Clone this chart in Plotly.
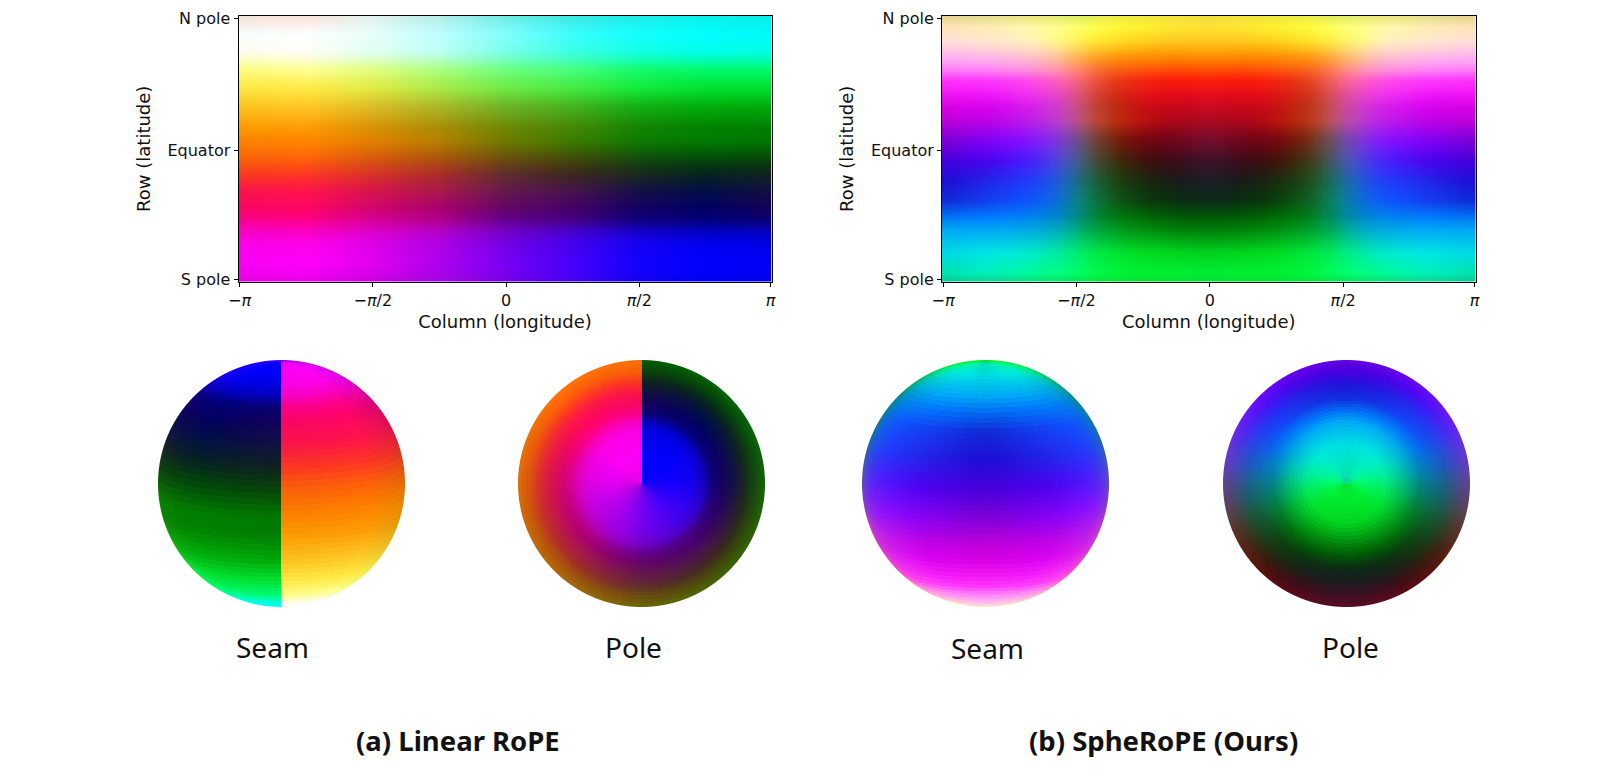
import numpy as np
import plotly.graph_objects as go

# Tick positions in grid cells and their labels
row_ticks = [0, 32, 63]
row_labels = ["N pole", "Equator", "S pole"]
col_ticks = [0, 64, 128, 192, 255]
col_labels = ["\u2212<i>\u03c0</i>", "\u2212<i>\u03c0</i>/2", "0", "<i>\u03c0</i>/2", "<i>\u03c0</i>"]
N_ROWS, N_COLS = 64, 256

# Linear RoPE colours, sampled by latitude (north to south) and longitude
linear_rows = [0.00, 0.07, 0.14, 0.20, 0.27, 0.34, 0.42, 0.467, 0.544, 0.595, 0.66, 0.724, 0.769, 0.807, 0.852, 0.93, 1.00]
linear_cols = [-1.0, -0.746, -0.5, -0.25, 0.0, 0.25, 0.5, 0.75, 1.0]
linear_colors = [
    [(240,225,215),(250,225,215),(225,240,235),(180,235,230),(110,235,225),(60,230,225),(30,235,230),(10,240,235),(10,235,230)],
    [(248,255,255),(255,255,255),(230,255,250),(190,255,255),(130,255,255),(60,255,255),(20,255,255),(0,255,255),(0,250,250)],
    [(252,253,235),(255,252,245),(225,255,240),(190,255,240),(120,255,230),(60,255,225),(20,255,225),(0,255,230),(0,255,225)],
    [(252,252,130),(255,255,150),(225,255,130),(170,255,130),(110,255,130),(70,255,130),(20,250,110),(0,250,110),(0,250,110)],
    [(252,232,70),(255,235,70),(225,235,70),(170,235,70),(110,235,70),(70,235,65),(20,235,60),(0,225,50),(0,225,50)],
    [(250,196,30),(255,200,40),(220,190,40),(170,185,40),(110,180,40),(70,180,30),(20,175,20),(0,175,10),(0,170,10)],
    [(250,155,0),(255,155,5),(215,145,5),(170,140,5),(110,135,5),(70,135,5),(20,130,5),(0,130,0),(0,125,0)],
    [(250,132,0),(255,135,0),(225,130,0),(180,130,0),(110,125,0),(60,125,0),(15,125,0),(0,125,0),(0,120,0)],
    [(248,95,10),(255,95,10),(215,85,15),(170,80,15),(105,75,15),(65,70,10),(20,70,15),(0,70,10),(10,65,10)],
    [(248,58,30),(255,55,35),(215,50,40),(170,45,40),(95,45,45),(60,40,30),(25,40,30),(5,35,30),(15,35,30)],
    [(248,20,72),(255,20,75),(215,20,75),(170,25,75),(100,25,75),(70,20,75),(20,15,70),(0,15,70),(20,15,65)],
    [(248,5,100),(255,5,100),(210,5,110),(170,0,110),(100,5,105),(70,0,105),(20,0,100),(0,0,100),(20,0,90)],
    [(248,0,140),(255,0,135),(215,0,150),(175,0,140),(100,0,140),(70,0,130),(15,0,125),(0,0,120),(10,0,115)],
    [(245,0,195),(250,0,190),(220,0,195),(180,0,195),(115,0,195),(70,0,200),(20,0,195),(0,0,190),(5,0,185)],
    [(248,0,228),(255,0,230),(220,0,230),(175,0,225),(115,0,225),(70,0,235),(20,0,240),(0,0,235),(0,0,225)],
    [(248,0,245),(255,0,250),(225,0,240),(175,0,240),(120,0,245),(70,0,250),(20,0,255),(0,0,255),(0,0,250)],
    [(230,0,228),(235,0,235),(205,0,225),(165,5,225),(120,0,230),(70,0,240),(20,0,240),(0,0,245),(0,0,235)],
]

# SpheRoPE colours; the field is symmetric about longitude 0, so one half is listed
sphere_rows = [0.00, 0.043, 0.093, 0.131, 0.168, 0.206, 0.244, 0.294, 0.344, 0.392, 0.467, 0.543, 0.618, 0.693, 0.756, 0.806, 0.894, 0.969, 1.00]
sphere_cols = [-1.0, -0.83, -0.66, -0.55, -0.5, -0.44, -0.375, -0.25, -0.125, 0.0]
sphere_colors = [
    [(225,210,140),(225,220,140),(235,230,120),(225,235,110),(215,235,100),(225,235,85),(235,235,70),(240,230,60),(240,225,60),(240,220,60)],
    [(255,225,185),(255,235,180),(255,250,170),(255,255,130),(255,255,110),(255,255,80),(255,250,60),(255,240,50),(255,230,50),(255,225,50)],
    [(255,225,220),(255,230,205),(255,240,190),(255,250,120),(255,240,90),(255,235,60),(255,225,40),(255,210,30),(255,200,30),(255,200,30)],
    [(255,195,235),(255,205,215),(255,215,200),(255,220,140),(255,210,90),(255,195,50),(255,185,25),(255,170,10),(255,165,10),(255,170,10)],
    [(255,165,245),(255,170,240),(255,180,210),(255,180,140),(255,170,90),(255,150,45),(255,135,15),(255,125,5),(255,120,0),(255,125,0)],
    [(255,120,250),(255,125,250),(255,140,220),(255,145,165),(255,135,115),(250,115,70),(245,95,25),(255,80,10),(255,70,5),(255,75,5)],
    [(255,50,250),(255,55,255),(255,75,230),(255,100,180),(250,105,130),(240,90,75),(230,65,25),(245,35,15),(250,25,10),(250,30,10)],
    [(240,20,240),(240,20,250),(240,50,240),(230,75,190),(220,85,135),(215,75,70),(205,50,20),(225,20,20),(230,10,25),(230,15,30)],
    [(215,0,225),(215,0,240),(215,30,235),(205,65,200),(200,80,135),(195,75,70),(185,50,15),(200,15,20),(200,5,25),(205,10,35)],
    [(190,0,215),(190,0,230),(190,30,235),(190,65,200),(185,85,140),(190,80,75),(185,55,15),(190,15,15),(170,5,25),(175,10,35)],
    [(125,0,210),(130,0,245),(135,20,255),(125,60,215),(110,80,145),(110,80,75),(115,40,10),(120,5,15),(110,5,25),(120,15,50)],
    [(70,0,215),(75,0,240),(75,30,255),(80,75,215),(70,95,145),(70,85,80),(65,55,15),(65,15,10),(60,10,25),(65,20,45)],
    [(30,10,210),(35,35,230),(35,60,255),(30,95,210),(28,112,140),(25,105,75),(30,75,20),(25,40,15),(25,25,25),(30,30,40)],
    [(15,40,210),(20,60,240),(15,85,255),(12,112,210),(10,135,135),(10,125,80),(15,95,30),(10,60,10),(10,45,15),(15,40,30)],
    [(0,110,240),(0,120,255),(0,130,240),(0,135,195),(0,140,135),(0,135,80),(0,125,20),(0,105,5),(0,90,5),(0,85,5)],
    [(0,170,240),(0,170,250),(0,170,225),(0,175,185),(0,175,125),(0,170,75),(0,160,40),(0,145,15),(0,130,10),(0,125,10)],
    [(0,215,225),(0,230,230),(0,235,205),(0,235,150),(0,238,120),(0,235,75),(0,230,60),(0,220,35),(0,215,30),(0,210,30)],
    [(0,225,170),(0,240,190),(0,250,150),(0,255,120),(0,255,105),(0,250,80),(0,245,60),(0,240,50),(0,240,50),(0,235,50)],
    [(10,200,150),(10,215,150),(10,225,130),(5,230,100),(5,230,85),(5,230,70),(5,230,60),(5,225,50),(5,225,50),(5,225,50)],
]

# Globe views: (longitude at the front, tilt of the south pole towards the viewer, radial mapping)
SEAM_VIEW = (np.pi, np.radians(10), "orthographic")
POLE_VIEW = (0.0, np.radians(90), "blended")
view_labels = ["Seam", "Pole", "Seam", "Pole"]
group_titles = ["(a) Linear RoPE", "(b) SpheRoPE (Ours)"]

W, H = 1600, 780


def lookup(table, rows, cols, t, u):
    """Read colours from a table at latitude fraction t and longitude u (in units of pi)."""
    table = np.asarray(table, dtype=float)
    i = np.clip(np.searchsorted(rows, t, side="right") - 1, 0, len(rows) - 2)
    j = np.clip(np.searchsorted(cols, u, side="right") - 1, 0, len(cols) - 2)
    rows, cols = np.asarray(rows), np.asarray(cols)
    ft = ((t - rows[i]) / (rows[i + 1] - rows[i]))[..., None]
    fu = ((u - cols[j]) / (cols[j + 1] - cols[j]))[..., None]
    top = table[i, j] * (1 - fu) + table[i, j + 1] * fu
    low = table[i + 1, j] * (1 - fu) + table[i + 1, j + 1] * fu
    return top * (1 - ft) + low * ft


def linear_field(t, u):
    return lookup(linear_colors, linear_rows, linear_cols, t, u)


def sphere_raw(t, u):
    wrapped = (u + 1) % 2 - 1
    return lookup(sphere_colors, sphere_rows, sphere_cols, t, -np.abs(wrapped))


def sphere_field(t, u):
    # Slight spread along longitude: the transitions in this field are soft
    spread = 0.04
    return (sphere_raw(t, u - spread) + sphere_raw(t, u) + sphere_raw(t, u + spread)) / 3


def sphere_field_wide(t, u):
    spread = 0.09
    return (sphere_raw(t, u - spread) + sphere_raw(t, u) + sphere_raw(t, u + spread)) / 3


def equirect(field):
    # Rows are drawn at half-cell steps, which softens the latitude bands
    t = (np.arange(N_ROWS * 2) + 0.5) / (N_ROWS * 2)
    u = (np.arange(N_COLS) + 0.5) / N_COLS * 2 - 1
    uu, tt = np.meshgrid(u, t)
    return field(tt, uu)


def globe(field, view, size, radius):
    """Globe view of a lat/long colour field, on a white ground. size is in pixels, radius too."""
    lon0, tilt, mapping = view
    c = (np.arange(size) + 0.5 - size / 2) / radius
    x, y = np.meshgrid(c, -c)
    rr = np.sqrt(x * x + y * y)
    r1 = np.clip(rr, 0, 1)
    ang = np.arcsin(r1)
    if mapping == "blended":
        # Orthographic near the pole, opening towards an equidistant rim
        w = np.clip((r1 - 0.3) / 0.6, 0, 1)
        ang = ang + w * (r1 * np.pi / 2 - ang)
    scale = np.sin(ang) / np.maximum(rr, 1e-6)
    x3, y3, z3 = x * scale, y * scale, np.cos(ang)
    south = y3 * np.cos(tilt) + z3 * np.sin(tilt)
    front = -y3 * np.sin(tilt) + z3 * np.cos(tilt)
    t = 0.5 + np.arcsin(np.clip(south, -1, 1)) / np.pi
    t = (np.floor(np.clip(t, 0, 0.9999) * N_ROWS) + 0.5) / N_ROWS
    lon = lon0 + np.arctan2(x3, front)
    u = (lon + np.pi) % (2 * np.pi) / np.pi - 1
    rgb = field(t, u)
    cover = np.clip((1 - rr) * radius + 0.5, 0, 1)[..., None]
    return rgb * cover + 255 * (1 - cover)


def px_domain(a, b, total):
    return [a / total, b / total]


fig = go.Figure()
fonts = "DejaVu Sans"
text_color = "#111111"

layout_axes = {}
map_boxes = [(238.5, 771.5), (942, 1475.5)]
for n, (field, (x0, x1)) in enumerate(zip((linear_field, sphere_field), map_boxes)):
    k = n + 1
    fig.add_trace(go.Image(
        z=np.rint(equirect(field)).astype(int).tolist(),
        x0=0, dx=1, y0=-0.25, dy=0.5, xaxis=f"x{k}", yaxis=f"y{k}", hoverinfo="skip",
    ))
    tick_font = dict(family=fonts, size=16, color=text_color)
    title_font = dict(family=fonts, size=18, color=text_color)
    layout_axes[f"xaxis{k}"] = dict(
        domain=px_domain(x0, x1, W), anchor=f"y{k}", range=[-0.5, N_COLS - 0.5], automargin=False,
        tickmode="array", tickvals=col_ticks, ticktext=col_labels, tickfont=tick_font,
        ticks="outside", ticklen=4, tickwidth=1, tickcolor="black",
        showline=True, linecolor="black", linewidth=1, mirror=True, showgrid=False, zeroline=False,
        title=dict(text="Column (longitude)", font=title_font, standoff=6),
        constrain="domain",
    )
    layout_axes[f"yaxis{k}"] = dict(
        domain=[1 - 281.5 / H, 1 - 16 / H], anchor=f"x{k}", range=[N_ROWS - 0.5, -0.5], automargin=False,
        tickmode="array", tickvals=row_ticks, ticktext=row_labels, tickfont=tick_font,
        ticks="outside", ticklen=4, tickwidth=1, tickcolor="black",
        showline=True, linecolor="black", linewidth=1, mirror=True, showgrid=False, zeroline=False,
        title=dict(text="Row (latitude)", font=title_font, standoff=12),
        scaleanchor=False, constrain="domain",
    )

# The four globes share one layout: (field, view, centre x)
globes = [
    (linear_field, SEAM_VIEW, 281.6),
    (linear_field, POLE_VIEW, 641.0),
    (sphere_field, SEAM_VIEW, 985.7),
    (sphere_field_wide, POLE_VIEW, 1346.0),
]
R = 123.5
CY = 483.7
PAD = 3
SIZE = int(2 * (R + PAD))
for n, (field, view, cx) in enumerate(globes):
    k = n + 3
    half = SIZE / 2
    fig.add_trace(go.Image(
        z=np.rint(globe(field, view, SIZE, R)).astype(int).tolist(),
        x0=-half + 0.5, dx=1, y0=-half + 0.5, dy=1,
        xaxis=f"x{k}", yaxis=f"y{k}", hoverinfo="skip",
    ))
    layout_axes[f"xaxis{k}"] = dict(domain=px_domain(cx - half, cx + half, W), anchor=f"y{k}", automargin=False,
                                    range=[-half, half], visible=False, constrain="domain")
    layout_axes[f"yaxis{k}"] = dict(domain=[1 - (CY + half) / H, 1 - (CY - half) / H], anchor=f"x{k}", automargin=False,
                                    range=[half, -half], visible=False, scaleanchor=False, constrain="domain")

annotations = []
label_xy = [(272.4, 647), (633.7, 647), (987.8, 648), (1350, 647)]
for text, (ax, ay) in zip(view_labels, label_xy):
    annotations.append(dict(text=text, x=ax / W, y=1 - ay / H, xref="paper", yref="paper", showarrow=False,
                            xanchor="center", yanchor="middle",
                            font=dict(family="Noto Sans", size=28, color="#111111")))
title_xy = [(458, 740), (1163, 740)]
for text, (ax, ay) in zip(group_titles, title_xy):
    annotations.append(dict(text=f"<b>{text}</b>", x=ax / W, y=1 - ay / H, xref="paper", yref="paper",
                            showarrow=False, xanchor="center", yanchor="middle",
                            font=dict(family="Noto Sans", size=27.5, color="#111111")))

fig.update_layout(
    width=W, height=H, margin=dict(l=0, r=0, t=0, b=0),
    paper_bgcolor="white", plot_bgcolor="white", showlegend=False,
    annotations=annotations, **layout_axes,
)
fig.write_html("out.html")
